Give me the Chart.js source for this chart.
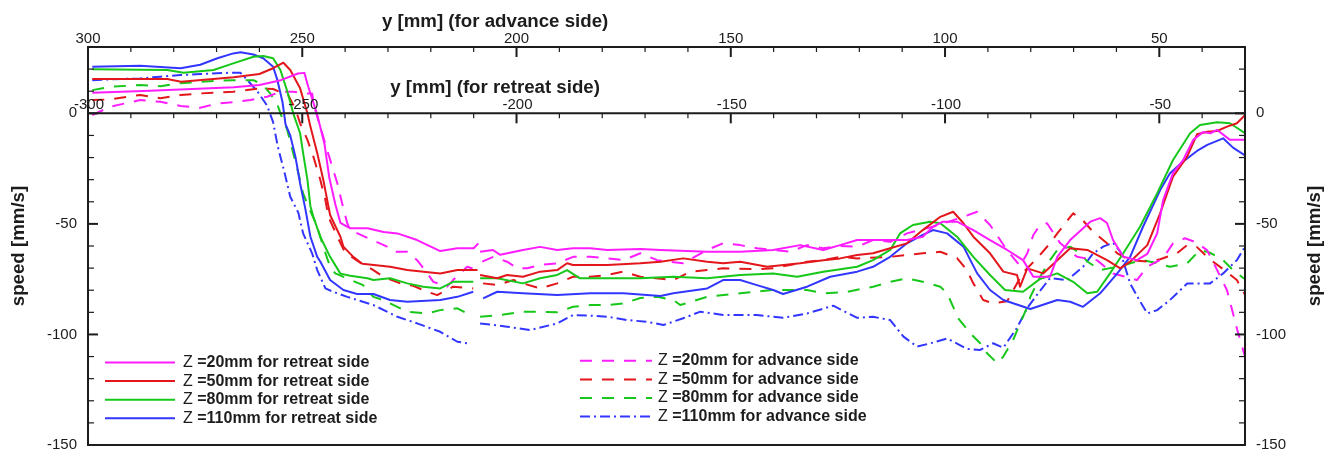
<!DOCTYPE html>
<html>
<head>
<meta charset="utf-8">
<script src="https://cdn.jsdelivr.net/npm/chart.js@4.4.1/dist/chart.umd.min.js"></script>
<style>
  html, body { margin: 0; padding: 0; background: #fff; }
  canvas { display: block; }
</style>
</head>
<body>
<canvas id="chart" width="1334" height="454"></canvas>
<script>
// Tick values for the three axes
const speedTicks = [0, -50, -100, -150];
const advanceTicks = [300, 250, 200, 150, 100, 50];
const retreatTicks = [-300, -250, -200, -150, -100, -50];

// Retreat side profiles: [y (mm), speed (mm/s)]
const retreatZ20 = [[-299,9.3],[-285.5,10.2],[-266,11.8],[-260,12.8],[-255,15],[-251,18],[-249.5,18.3],[-248.6,12],[-246.6,0],[-244.8,-14],[-243.7,-29],[-242.3,-41],[-241.1,-49.5],[-238.8,-52],[-234.8,-52],[-231,-53.7],[-227.8,-54.3],[-223.2,-57.3],[-217.8,-62.3],[-213.8,-61],[-210,-61],[-208.9,-58.8],[-208.7,null],[-208.5,-62.6],[-205.5,-61.8],[-203.8,-64],[-198.5,-61.8],[-194.5,-60.4],[-190.5,-61.8],[-186.8,-61],[-182.8,-61],[-178.8,-61.8],[-171.1,-61.4],[-166.4,-61.8],[-163.4,-62],[-155.5,-62.6],[-147.8,-62.6],[-140.1,-61.8],[-133.8,-59.6],[-128.4,-61.8],[-124.5,-59.6],[-120.5,-57.3],[-116.8,-57.3],[-112.8,-57.3],[-108.9,-57.3],[-105.2,-55.8],[-102.8,-51.3],[-100.5,-49],[-97.2,-49],[-93.4,-52.8],[-89.5,-57.3],[-85.5,-61.8],[-81.8,-66.4],[-79.4,-73.9],[-75.5,-73.9],[-73.8,-64.9],[-70.8,-57.3],[-66.1,-49],[-63.8,-47.4],[-62.2,-49.6],[-60.8,-57.3],[-58.4,-64.9],[-55.2,-66.4],[-52.8,-63.6],[-50.5,-54.3],[-49.1,-39.2],[-46.8,-27],[-44.4,-21],[-42.1,-12],[-39.8,-8.5],[-38.1,-9],[-36.5,-7.5],[-33.5,-12],[-30,-12]];
const retreatZ50 = [[-299,15.5],[-281.5,15.5],[-278.3,14.3],[-266,16.3],[-260,17.8],[-256.8,20.4],[-254.4,22.9],[-252.8,19.6],[-250.5,11.3],[-248.8,0],[-248.1,-6],[-246.5,-18],[-245.1,-30],[-243.9,-42],[-243.5,-46],[-241.1,-55.8],[-240.4,-60.3],[-238.1,-64.9],[-236,-68],[-229.5,-69.4],[-225.5,-70.9],[-221.7,-71.6],[-217.8,-72.4],[-213.8,-70.9],[-209.1,-70.9],[-208.8,null],[-208.5,-73.1],[-204.5,-74.6],[-202.2,-73.1],[-198.5,-73.9],[-194.5,-71.6],[-190.5,-70.9],[-188.2,-67.8],[-186.8,-68.6],[-178.8,-68.6],[-171.1,-67.8],[-166.4,-67.1],[-161.1,-65.6],[-155.5,-67.1],[-151.8,-67.8],[-147.8,-67.1],[-141.5,-69.4],[-133.8,-67.8],[-128.4,-66.4],[-124.5,-65.6],[-120.5,-64.1],[-116.8,-63.3],[-112.8,-61],[-108.9,-58.8],[-105.2,-52.8],[-101.1,-46.8],[-98.1,-44.5],[-95.7,-49.7],[-93.4,-55.8],[-89.5,-63.3],[-86.4,-71.6],[-83.2,-73.1],[-82.5,-78.4],[-80.8,-70.1],[-77.1,-72.4],[-73.8,-66.4],[-70.8,-61],[-66.8,-61.8],[-62.2,-66.4],[-59.1,-70.1],[-56.8,-67.1],[-52.8,-59.6],[-49.8,-45.2],[-46.8,-28.7],[-43.5,-19.6],[-41.2,-9.5],[-38.8,-8.3],[-36.5,-8],[-34.2,-6],[-31.9,-4.5],[-30,-0.8]];
const retreatZ80 = [[-299,19.9],[-281.5,19.6],[-277.7,18.4],[-270.7,19.6],[-266.1,22.6],[-261.4,25.6],[-259.1,25.9],[-256.8,24.9],[-255.1,19.6],[-253.5,10],[-252.1,0],[-250.5,-9],[-249.8,-18],[-248.8,-30],[-248.1,-42],[-247.4,-46.8],[-245.8,-55.8],[-243.5,-64.9],[-241.1,-72.5],[-238.8,-73.5],[-234.8,-74.6],[-233.4,-75.4],[-229.5,-74.6],[-225.5,-76.9],[-221.8,-78.4],[-217.8,-79.2],[-214.8,-76.2],[-210.1,-76.2],[-209.3,null],[-208.5,-74.6],[-204.5,-74.6],[-198.5,-76.9],[-194.5,-74.6],[-190.5,-73.1],[-188.2,-70.9],[-185.2,-74.6],[-178.8,-74.6],[-171.1,-74.6],[-163.4,-73.9],[-155.5,-74.6],[-147.8,-73.1],[-140.1,-72.4],[-134.5,-73.9],[-128.4,-71.6],[-120.5,-69.4],[-116.8,-66.4],[-112.8,-61.8],[-110.5,-54.3],[-107.5,-50.5],[-103.5,-49],[-101.1,-49.7],[-97.2,-55.8],[-93.4,-64.9],[-89.5,-73.1],[-86,-79.9],[-81.8,-80.7],[-77.9,-75],[-73.8,-72.4],[-70.1,-76.2],[-66.8,-81.4],[-64.5,-80.7],[-61.5,-72.4],[-58.4,-63.3],[-54.5,-51.3],[-50.5,-36.2],[-46.8,-21.1],[-42.8,-9],[-40.5,-5.3],[-36.5,-4],[-33.5,-4.5],[-30,-9]];
const retreatZ110 = [[-299,21.1],[-287.8,21.5],[-278.4,20.4],[-273.8,22],[-269.8,24.9],[-266.1,27.1],[-264.4,27.6],[-261.4,26.6],[-259.1,24.9],[-256.8,21.1],[-255.8,15],[-254.6,5],[-253.9,-5],[-252.8,-10],[-251.6,-19.6],[-250.5,-31.7],[-249.3,-43],[-248.1,-55.8],[-246.5,-64.9],[-245.8,-67],[-243.5,-75.4],[-240.4,-79.9],[-237.2,-81.7],[-233.4,-81.7],[-229.5,-84.4],[-225.5,-85.2],[-217.8,-84.4],[-213.8,-83],[-210.1,-80.7],[-209,null],[-207.8,-83.7],[-204.5,-80.7],[-198.5,-81.4],[-190.5,-82.2],[-182.8,-81.4],[-175.1,-81.4],[-166.4,-82.6],[-163.4,-81.4],[-155.5,-79.2],[-151.8,-75.4],[-147.8,-75.4],[-143.9,-77.7],[-140.1,-79.9],[-137.8,-81.7],[-132.2,-78.4],[-126.8,-73.9],[-120.5,-71.6],[-116.8,-69.4],[-112.8,-64.9],[-108.9,-58.8],[-105.2,-55],[-102.8,-52.8],[-99.5,-54.3],[-95.7,-60.3],[-92.5,-72.4],[-89.5,-79.9],[-86.4,-84.4],[-80.1,-88.5],[-73.8,-84.4],[-70.8,-85.2],[-67.8,-87.5],[-63.8,-81.4],[-59.8,-72.4],[-56.8,-64.9],[-53.8,-51.3],[-49.8,-34.7],[-47.5,-27.1],[-44.5,-21.9],[-41.2,-17],[-38.8,-14.3],[-35.1,-11.3],[-32.8,-15.5],[-30,-19]];

// Advance side profiles: [y (mm), speed (mm/s)]
const advanceZ20 = [[299,-0.8],[294.8,3],[287.8,6],[283.1,5.2],[278.4,3.3],[273.8,2.5],[269.8,4.5],[266.1,5],[262.1,6],[258.2,7.5],[255.1,9.8],[252.1,9.8],[248.8,9],[247.7,9],[247.2,3],[245.8,-6],[244.2,-16.6],[243,-24.1],[241.8,-31.7],[240.7,-40.7],[239.5,-49.7],[238.8,-52.8],[230.2,-60.3],[228.7,-62.6],[225.5,-62.6],[223.2,-66.4],[220.8,-72.4],[219.4,-76.2],[216.2,-78.4],[214.8,-75.4],[211.5,-69.4],[209.1,-70.9],[208.6,null],[208,-67.1],[205.4,-64.9],[202.2,-67.1],[199.8,-70.1],[197.5,-70.1],[194.5,-68.6],[190.5,-67.8],[186.8,-64.9],[182.8,-64.9],[178.8,-65.6],[175.1,-66.4],[171.1,-63.3],[167.2,-66.4],[161.1,-67.8],[155.5,-61.8],[151.8,-58.8],[147.8,-59.6],[143.9,-61],[140.1,-61.8],[136.2,-62.6],[132.2,-59.6],[128.4,-61],[124.5,-60],[120.5,-60.3],[116.8,-57.3],[112.8,-58.1],[108.9,-54.3],[102.3,-51],[95.7,-46.8],[92.5,-44.5],[89.5,-50.5],[85.5,-62],[82.5,-69],[80.8,-63.3],[79.4,-55],[77.8,-50.5],[76.2,-49.7],[73.1,-58.8],[69.2,-64.9],[64.5,-66.5],[60.8,-72.4],[55.2,-75.4],[52.8,-69.4],[49.1,-65.5],[46.8,-58.8],[44,-56.5],[41.2,-58.5],[38.8,-62],[36.5,-70.9],[34.2,-80],[31.8,-98],[30,-110]];
const advanceZ50 = [[299,6],[294.8,6.3],[287.8,8.3],[283.1,6.8],[278.4,8.3],[273.8,9],[266.1,9.8],[259.8,11.3],[256.8,11],[254.4,9],[253.3,8.3],[251.6,2],[250.5,-4.5],[248.8,-12],[247.4,-19.6],[245.8,-30],[244.6,-39.2],[243.9,-46.8],[241.8,-55.8],[240,-63],[236.5,-67.5],[233.4,-70.9],[231.1,-73.9],[227.1,-76.9],[224.1,-78],[220.8,-80.7],[218.5,-82.2],[214.8,-78.4],[210.1,-79.2],[208.9,null],[207.8,-76.9],[204.5,-77.7],[200.7,-75.4],[198.5,-76.9],[194.5,-79.2],[190.5,-76.9],[186.8,-73.9],[182.8,-73.9],[178.8,-73.1],[175.1,-71.6],[171.1,-73.9],[163.4,-75.4],[159.4,-71.6],[155.5,-70.9],[151.8,-70.1],[143.9,-70.5],[140.1,-70.1],[136.2,-68.6],[132.2,-67.1],[128.4,-66.4],[124.5,-64.9],[120.5,-65.6],[112.8,-64.9],[108.9,-64.1],[105.2,-63.3],[101.1,-62.6],[97.2,-65.5],[94.9,-70.9],[93.4,-76.9],[91.1,-84.4],[88.8,-86],[85.5,-85],[81.8,-72],[78.5,-65.5],[75.5,-58.8],[73.8,-54.3],[70.1,-45.2],[67.8,-48.5],[65.5,-53.5],[62.2,-58.8],[59.8,-63.3],[56.8,-66.4],[52.8,-67],[49.8,-66],[45.9,-63.3],[43.5,-59.6],[41.2,-60.5],[38.2,-66],[35.1,-70.5],[31.9,-75.4],[30,-82]];
const advanceZ80 = [[299,10.5],[294.8,12],[287.8,12.8],[283.1,12.3],[278.4,13.6],[273.8,14.3],[266.1,15],[261.4,15],[259.1,12.8],[257.5,9],[255.8,4],[255.1,0],[253.5,-7.5],[252.1,-18.1],[250.9,-27.1],[249.8,-36.2],[248.6,-42],[246.5,-51.3],[245.1,-60.3],[243.5,-69.4],[242.3,-72.4],[235.8,-77.7],[233.4,-83],[231.1,-84.4],[225.5,-89.7],[220.8,-90.5],[217.8,-89],[213.8,-88.2],[210.1,-92],[209.3,null],[208.5,-92],[203.8,-91.2],[198.5,-89.7],[194.5,-89.7],[190.5,-90],[186.8,-87.5],[182.8,-86.7],[178.8,-86.7],[175.1,-86],[171.1,-83.5],[167.2,-83],[163.4,-84.4],[161.8,-86.7],[155.5,-83],[147.8,-81.4],[140.1,-79.9],[132.2,-79.9],[128.4,-81.4],[122.8,-80.7],[116.8,-78.4],[112.8,-76.2],[108.9,-74.6],[105.2,-76.2],[101.1,-78.4],[99.5,-81.4],[98.1,-87.5],[97.2,-92],[94.1,-99.5],[91.8,-104],[90.2,-108.5],[87.8,-113],[86.4,-110],[84.1,-102.5],[82.5,-95],[80.8,-87.5],[80.1,-83],[77.8,-73.9],[75.5,-66.4],[73.8,-61.8],[70.8,-60.3],[68.5,-63.3],[66.8,-67],[63.8,-70.9],[61.5,-70],[59.1,-69.4],[56.8,-67.8],[53.8,-66.4],[50.5,-67.8],[47.5,-69.4],[43.5,-67.8],[40.5,-61.8],[38.2,-63],[35.1,-66.4],[32.8,-70.9],[30,-75]];
const advanceZ110 = [[299,15],[294.8,15.4],[287.8,15.8],[283.1,16.6],[278.4,17.3],[273.8,17.8],[266.1,18.4],[264.4,18.3],[262.8,15],[260.5,10],[258.2,3.5],[256.8,-4],[255.7,-15.1],[254.1,-27.1],[252.8,-37.7],[250.9,-45],[249.8,-54.3],[247.7,-63.3],[246.5,-70.9],[244.6,-79.2],[242.8,-80.7],[239.5,-83],[233.4,-86.7],[227.8,-92],[223.2,-95],[217.8,-98.8],[213.8,-103.3],[211.5,-104],[210,null],[208.5,-95],[202.2,-96.5],[196.8,-98],[190.5,-95],[186.8,-91.2],[182.8,-91.5],[178.8,-92],[174.1,-93.5],[169.5,-94.3],[165.7,-95.7],[161.1,-92.7],[157.1,-89.7],[151.8,-91.2],[143.9,-91.2],[137.8,-92.5],[132.2,-90.5],[126.1,-87],[120.5,-92.5],[116.8,-92],[112.8,-93.5],[109.7,-101],[106.5,-105.5],[103.4,-104],[99.5,-101.8],[94.9,-106.5],[91.8,-107],[88.8,-104],[86.4,-106],[83.2,-97],[80.8,-88],[78.5,-82],[75.5,-74.5],[71.5,-75.4],[67.8,-69.4],[65.5,-63.5],[63.1,-60.3],[60.8,-58.5],[59.1,-62.5],[56.8,-77],[54.5,-85],[52.8,-90.5],[50.5,-89],[47.5,-84.4],[43.5,-77],[38.2,-77],[35.1,-72.4],[31.9,-66.4],[30,-60.3]];

const MAGENTA = '#ff1cff';
const RED = '#e3161b';
const GREEN = '#17c81a';
const BLUE = '#3236ff';
const INK = '#1c1c1c';
const DASHED = [12, 10];
const DASH_DOT = [10, 4, 2, 4];
const FONT_FAMILY = '"Liberation Sans", Arial, Helvetica, sans-serif';

const toPoints = rows => rows.map(([x, y]) => ({ x, y }));

function profile(label, rows, color, dash, axis) {
  return {
    label,
    data: toPoints(rows),
    xAxisID: axis,
    yAxisID: 'y',
    borderColor: color,
    backgroundColor: color,
    borderWidth: 2,
    borderDash: dash,
    borderJoinStyle: 'round',
    pointRadius: 0,
    tension: 0,
    fill: false,
    spanGaps: false
  };
}

const datasets = [
  profile('Z =20mm for retreat side', retreatZ20, MAGENTA, [], 'x'),
  profile('Z =50mm for retreat side', retreatZ50, RED, [], 'x'),
  profile('Z =80mm for retreat side', retreatZ80, GREEN, [], 'x'),
  profile('Z =110mm for retreat side', retreatZ110, BLUE, [], 'x'),
  profile('Z =20mm for advance side', advanceZ20, MAGENTA, DASHED, 'xAdv'),
  profile('Z =50mm for advance side', advanceZ50, RED, DASHED, 'xAdv'),
  profile('Z =80mm for advance side', advanceZ80, GREEN, DASHED, 'xAdv'),
  profile('Z =110mm for advance side', advanceZ110, BLUE, DASH_DOT, 'xAdv')
];

// Boxed frame with inward ticks, a second y-scale inside the plot at speed 0,
// titles and a two-column legend.
const paperAxes = {
  id: 'paperAxes',
  afterDatasetsDraw(chart) {
    const { ctx, chartArea: a, scales } = chart;
    const xr = scales.x, xa = scales.xAdv, y = scales.y;
    const seg = (x1, y1, x2, y2) => { ctx.beginPath(); ctx.moveTo(x1, y1); ctx.lineTo(x2, y2); ctx.stroke(); };
    const y0 = y.getPixelForValue(0);

    ctx.save();
    ctx.strokeStyle = INK;
    ctx.fillStyle = INK;
    ctx.lineCap = 'butt';

    // frame and the retreat axis line
    ctx.lineWidth = 2;
    ctx.strokeRect(a.left, a.top, a.right - a.left, a.bottom - a.top);
    seg(a.left, y0, a.right, y0);

    // speed ticks, left and right, every 10 mm/s
    for (let v = -150; v <= 30; v += 10) {
      const p = y.getPixelForValue(v);
      const major = v % 50 === 0;
      ctx.lineWidth = major ? 2 : 1.2;
      const len = major ? 10 : 6;
      seg(a.left, p, a.left + len, p);
      seg(a.right, p, a.right - len, p);
    }
    // advance-side ticks along the top
    for (let v = 300; v >= 30; v -= 10) {
      const p = xa.getPixelForValue(v);
      const major = v % 50 === 0;
      ctx.lineWidth = major ? 2 : 1.2;
      seg(p, a.top, p, a.top + (major ? 10 : 5));
    }
    // retreat-side ticks along the zero line
    for (let v = -300; v <= -30; v += 10) {
      const p = xr.getPixelForValue(v);
      const major = v % 50 === 0;
      ctx.lineWidth = major ? 2 : 1.2;
      seg(p, y0, p, y0 + (major ? 10 : 5));
    }

    // tick labels
    ctx.font = '15px ' + FONT_FAMILY;
    ctx.textBaseline = 'middle';
    speedTicks.forEach(v => {
      const p = y.getPixelForValue(v);
      ctx.textAlign = 'right';
      ctx.fillText(String(v), a.left - 11, p);
      ctx.textAlign = 'left';
      ctx.fillText(String(v), a.right + 11, p);
    });
    ctx.textAlign = 'center';
    ctx.textBaseline = 'alphabetic';
    advanceTicks.forEach(v => ctx.fillText(String(v), xa.getPixelForValue(v), a.top - 4.5));
    retreatTicks.forEach(v => ctx.fillText(String(v), xr.getPixelForValue(v) + 1, y0 - 4.5));

    // axis titles
    ctx.font = 'bold 18.7px ' + FONT_FAMILY;
    ctx.fillText('y [mm] (for advance side)', xa.getPixelForValue(205), a.top - 20.5);
    ctx.fillText('y [mm] (for retreat side)', xr.getPixelForValue(-205), y0 - 20.5);
    const ty = y.getPixelForValue(-60);
    [[a.left - 69, ty], [a.right + 70, ty]].forEach(([tx, tyy]) => {
      ctx.save();
      ctx.translate(tx, tyy);
      ctx.rotate(-Math.PI / 2);
      ctx.textBaseline = 'middle';
      ctx.fillText('speed [mm/s]', 0, 0);
      ctx.restore();
    });

    // legend: retreat profiles on the left, advance profiles on the right
    const columns = [
      { items: chart.data.datasets.slice(0, 4), x: a.left + 17, y: a.top + 315.5, sample: 70, gap: 8 },
      { items: chart.data.datasets.slice(4), x: a.left + 492, y: a.top + 313.8, sample: 72, gap: 6 }
    ];
    columns.forEach(col => {
      col.items.forEach((ds, i) => {
        const ry = col.y + i * 18.6;
        ctx.save();
        ctx.strokeStyle = ds.borderColor;
        ctx.lineWidth = 2;
        ctx.setLineDash(ds.borderDash);
        seg(col.x, ry, col.x + col.sample, ry);
        ctx.restore();
        const tx = col.x + col.sample + col.gap;
        const head = ds.label.slice(0, 1);
        const rest = ds.label.slice(1);
        ctx.textAlign = 'left';
        ctx.textBaseline = 'middle';
        ctx.font = '16px ' + FONT_FAMILY;
        ctx.fillText(head, tx, ry);
        const w = ctx.measureText(head).width;
        ctx.font = 'bold 16px ' + FONT_FAMILY;
        ctx.fillText(rest, tx + w, ry);
      });
    });
    ctx.restore();
  }
};

new Chart(document.getElementById('chart'), {
  type: 'line',
  data: { datasets },
  options: {
    responsive: false,
    animation: false,
    devicePixelRatio: 1,
    parsing: true,
    layout: { padding: { left: 88, right: 89, top: 47, bottom: 9 } },
    plugins: { legend: { display: false }, tooltip: { enabled: false } },
    scales: {
      x: { type: 'linear', min: -300, max: -30, display: false },
      xAdv: { type: 'linear', min: 30, max: 300, reverse: true, display: false },
      y: { type: 'linear', min: -150, max: 30, display: false }
    }
  },
  plugins: [paperAxes]
});
</script>
</body>
</html>
